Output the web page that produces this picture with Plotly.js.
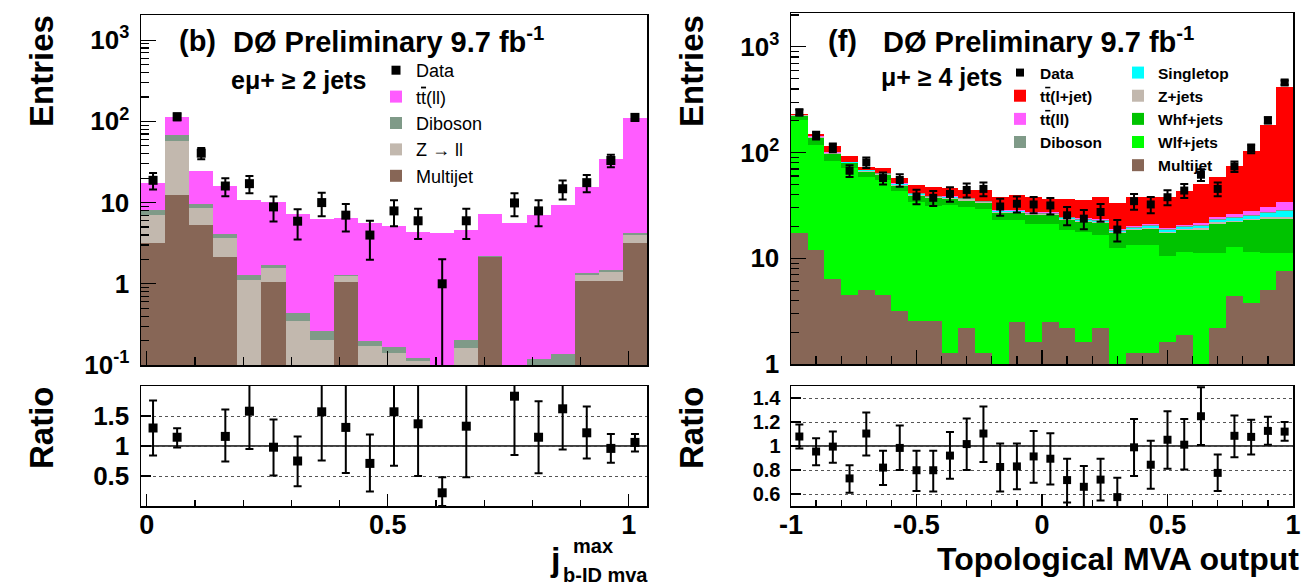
<!DOCTYPE html>
<html>
<head>
<meta charset="utf-8">
<script src="https://cdn.plot.ly/plotly-3.0.1.min.js"></script>
<style>html,body{margin:0;padding:0;background:#fff;}#chart{width:1310px;height:586px;}</style>
</head>
<body>
<div id="chart"></div>
<script>
// ---------------- Panel (b): e mu + >= 2 jets ----------------
const leftBinCenters = [0.013,0.063,0.113,0.163,0.213,0.263,0.313,0.363,0.413,0.463,0.513,0.563,0.613,0.663,0.713,0.763,0.813,0.863,0.913,0.963,1.013];
const leftBinWidth = 0.05;
const leftMultijet = [3.15,12.5,5.3,2.12,0,1.06,0,0,1.05,0,0,0,0,0,2.12,0,0,0,1.07,1.07,3.15];
const leftZll      = [3.85,44.4,3.4,1.51,1.12,0.5,0.35,0.206,0.18,0.17,0.139,0.112,0,0.16,0.04,0,0,0,0.22,0.31,0.83];
const leftDiboson  = [1.06,11.1,0.8,0.46,0.18,0.16,0.09,0.06,0.07,0.027,0.027,0.009,0,0.046,0.06,0,0.117,0.135,0.06,0.1,0.19];
const leftTTll     = [9.34,46,14.9,11.7,9.4,8.5,6.86,6.1,5.07,5.44,4.96,4.25,4.25,4.37,5.11,5.53,6.88,9.17,14.25,33.1,105.8];
const leftData        = [18.8,114,40.6,16,17.1,8.85,5.9,10,7.0,3.98,7.9,5.97,1.0,5.97,null,9.9,7.9,14.8,17.6,33,112];
const leftDataErrUp   = [4.3,10.7,6.4,4.0,4.1,3.0,2.4,3.2,2.6,2.0,2.8,2.4,1.0,2.4,null,3.1,2.8,3.9,4.2,5.7,10.6];
const leftDataErrDown = [4.3,10.7,6.4,4.0,4.1,3.0,2.4,3.2,2.6,2.0,2.8,2.4,0.99,2.4,null,3.1,2.8,3.9,4.2,5.7,10.6];
const leftRatio        = [1.30,1.146,null,1.16,1.58,0.98,0.75,1.57,1.31,0.71,1.57,1.37,0.22,1.33,null,1.83,1.146,1.62,1.22,0.96,1.06];
const leftRatioErrUp   = [0.46,0.15,null,0.45,0.6,0.46,0.41,0.8,0.8,0.48,0.9,0.9,0.26,0.85,null,0.98,0.6,0.68,0.44,0.24,0.14];
const leftRatioErrDown = [0.46,0.17,null,0.42,0.63,0.47,0.42,0.81,0.76,0.47,0.9,0.87,0.22,0.85,null,0.98,0.6,0.68,0.43,0.24,0.15];

// ---------------- Panel (f): mu + >= 4 jets ----------------
const rightBinCenters = [-0.9667,-0.9,-0.8333,-0.7667,-0.7,-0.6333,-0.5667,-0.5,-0.4333,-0.3667,-0.3,-0.2333,-0.1667,-0.1,-0.0333,0.0333,0.1,0.1667,0.2333,0.3,0.3667,0.4333,0.5,0.5667,0.6333,0.7,0.7667,0.8333,0.9,0.9667];
const rightBinWidth = 0.066667;
const rightMultijet  = [17.2,12.0,6.3,4.5,5.0,4.5,3.2,2.55,2.55,1.27,2.2,1.27,0.7,2.5,1.6,2.5,2.2,1.6,2.2,0.7,1.27,1.27,1.6,1.9,0.7,2.2,4.4,3.8,5.0,7.5];
const rightWlf       = [187.8,106,77.2,66.3,54,50.5,39.9,31.45,29,30.3,28.3,28.1,22.2,20.4,19.4,18.5,16.2,16.2,14.3,11.7,12.0,12.0,8.8,9.6,10.4,8.9,8.5,7.7,6.1,3.6];
const rightWhf       = [16,19,13,8.1,7,6.7,5.6,5.2,5.4,4.9,4.7,3.8,3.9,3.9,4.5,4.5,4.5,4.3,5.1,4.8,5.1,5.8,6.8,6.9,7.6,10.2,9.2,11.4,12.6,12.6];
const rightZjets     = [3.5,2.4,1.8,1.5,1.3,1.2,1.0,0.9,0.8,0.8,0.8,0.7,0.6,0.6,0.6,0.6,0.5,0.5,0.5,0.4,0.45,0.45,0.45,0.5,0.5,0.55,0.6,0.6,0.65,0.8];
const rightSingletop = [0.5,0.4,0.4,0.4,0.4,0.4,0.4,0.4,0.4,0.4,0.4,0.4,0.4,0.4,0.4,0.4,0.5,0.5,0.5,0.5,0.6,0.6,0.7,0.8,0.9,1.1,1.4,1.8,2.4,3.5];
const rightDiboson   = [2.5,1.8,1.3,1.1,1.0,0.9,0.8,0.7,0.7,0.7,0.6,0.6,0.5,0.5,0.5,0.5,0.5,0.45,0.45,0.4,0.4,0.4,0.4,0.4,0.45,0.45,0.5,0.5,0.55,0.6];
const rightTTll      = [0.3,0.3,0.3,0.3,0.3,0.3,0.3,0.3,0.3,0.3,0.3,0.3,0.3,0.3,0.3,0.35,0.35,0.4,0.4,0.4,0.5,0.5,0.6,0.7,0.9,1.1,1.5,2.0,3.0,5.5];
const rightTTlj      = [4.2,9.1,14.7,10.8,3.3,6.8,6.2,8.3,7.8,7.3,7.0,9.1,9.2,11.5,10.5,9.15,11.75,11.75,14.35,14.6,18.05,16.75,19.05,22.9,29.05,34.6,48.9,76.2,151.7,378.9];
const rightData    = [240,145,111,67.3,80.6,57.4,55,38.4,37.3,40.6,44.3,45.3,30.9,32.8,32.3,31.6,25.5,23.7,27.4,18.7,34.7,32.3,37.8,43.7,61.7,45.3,73.9,109,202,460];
const rightDataErr = [15.5,12,10.5,8.5,9.0,7.5,7.4,6.0,6.1,6.4,6.7,6.7,5.6,5.7,5.7,5.6,5.0,4.9,5.2,4.3,5.9,5.7,6.1,6.6,7.9,6.7,8.6,10.4,14.2,21.4];
const rightRatio        = [1.079,0.954,0.995,0.73,1.104,0.82,0.984,0.798,0.798,0.92,1.016,1.104,0.825,0.83,0.913,0.894,0.716,0.66,0.72,0.574,0.989,0.844,1.052,1.011,1.248,0.776,1.085,1.076,1.126,1.12];
const rightRatioErrUp   = [0.10,0.11,0.125,0.11,0.176,0.14,0.186,0.162,0.162,0.197,0.214,0.226,0.195,0.19,0.212,0.212,0.178,0.174,0.174,0.161,0.235,0.2,0.238,0.215,0.242,0.154,0.169,0.142,0.117,0.08];
const rightRatioErrDown = [0.10,0.114,0.135,0.12,0.184,0.145,0.184,0.172,0.178,0.193,0.216,0.238,0.205,0.19,0.219,0.214,0.186,0.17,0.175,0.154,0.239,0.201,0.242,0.207,0.24,0.15,0.178,0.146,0.116,0.076];

// tick labels
const leftMainTickVals = [0.1,1,10,100,1000];
const leftMainTickText = ['10<sup>-1</sup>','1','10','10<sup>2</sup>','10<sup>3</sup>'];
const rightMainTickVals = [1,10,100,1000];
const rightMainTickText = ['1','10','10<sup>2</sup>','10<sup>3</sup>'];
const leftRatioTickVals = [0.5,1,1.5];
const leftRatioTickText = ['0.5','1','1.5'];
const rightRatioTickVals = [0.6,0.8,1,1.2,1.4];
const rightRatioTickText = ['0.6','0.8','1','1.2','1.4'];
const leftXTickVals = [0,0.5,1];
const leftXTickText = ['0','0.5','1'];
const rightXTickVals = [-1,-0.5,0,0.5,1];
const rightXTickText = ['-1','-0.5','0','0.5','1'];

// colours
const C = {
  multijet:'#876656', zll:'#c2b8ae', diboson:'#7f9a88', ttll:'#ff5cff',
  ttlj:'#ff0000', singletop:'#00ffff', whf:'#00c300', wlf:'#00ff00', data:'#000000'
};
const FONT = 'Liberation Sans, Arial, Helvetica, sans-serif';
const W = 1310, H = 586;
const px = v => v / W;
const py = v => 1 - v / H;

function minorLog(lo, hi) {
  const out = [];
  for (let d = lo; d <= hi; d++) {
    for (let k = 2; k <= 9; k++) out.push(k * Math.pow(10, d));
  }
  return out;
}

function bar(x, y, w, name, color, xa, ya, legend, rank) {
  return {type:'bar', x:x, y:y, width:w, name:name, marker:{color:color, line:{width:0}},
          xaxis:xa, yaxis:ya, legend:legend, legendrank:rank, hoverinfo:'skip'};
}
function dataTrace(x, y, up, down, xa, ya, legend, show, size) {
  return {type:'scatter', mode:'markers', x:x, y:y, name:'Data', xaxis:xa, yaxis:ya,
          legend:legend, legendrank:1, showlegend:show, hoverinfo:'skip',
          marker:{symbol:'square', size:size, color:C.data},
          error_y:{type:'data', symmetric:false, array:up, arrayminus:down, color:'#000', thickness:2, width:4}};
}

const traces = [
  bar(leftBinCenters, leftMultijet, leftBinWidth, 'Multijet', C.multijet, 'x', 'y', 'legend', 5),
  bar(leftBinCenters, leftZll, leftBinWidth, 'Z \u2192 ll', C.zll, 'x', 'y', 'legend', 4),
  bar(leftBinCenters, leftDiboson, leftBinWidth, 'Diboson', C.diboson, 'x', 'y', 'legend', 3),
  bar(leftBinCenters, leftTTll, leftBinWidth, 't<span style="text-decoration:overline">t</span>(ll)', C.ttll, 'x', 'y', 'legend', 2),
  dataTrace(leftBinCenters, leftData, leftDataErrUp, leftDataErrDown, 'x', 'y', 'legend', true, 9),
  dataTrace(leftBinCenters, leftRatio, leftRatioErrUp, leftRatioErrDown, 'x2', 'y2', 'legend', false, 9),

  bar(rightBinCenters, rightMultijet, rightBinWidth, 'Multijet', C.multijet, 'x3', 'y3', 'legend3', 15),
  bar(rightBinCenters, rightWlf, rightBinWidth, 'Wlf+jets', C.wlf, 'x3', 'y3', 'legend3', 14),
  bar(rightBinCenters, rightWhf, rightBinWidth, 'Whf+jets', C.whf, 'x3', 'y3', 'legend3', 13),
  bar(rightBinCenters, rightZjets, rightBinWidth, 'Z+jets', C.zll, 'x3', 'y3', 'legend3', 12),
  bar(rightBinCenters, rightSingletop, rightBinWidth, 'Singletop', C.singletop, 'x3', 'y3', 'legend3', 11),
  bar(rightBinCenters, rightDiboson, rightBinWidth, 'Diboson', C.diboson, 'x3', 'y3', 'legend2', 4),
  bar(rightBinCenters, rightTTll, rightBinWidth, 't<span style="text-decoration:overline">t</span>(ll)', C.ttll, 'x3', 'y3', 'legend2', 3),
  bar(rightBinCenters, rightTTlj, rightBinWidth, 't<span style="text-decoration:overline">t</span>(l+jet)', C.ttlj, 'x3', 'y3', 'legend2', 2),
  dataTrace(rightBinCenters, rightData, rightDataErr, rightDataErr, 'x3', 'y3', 'legend2', true, 8),
  dataTrace(rightBinCenters, rightRatio, rightRatioErrUp, rightRatioErrDown, 'x4', 'y4', 'legend2', false, 8)
];

const tickFont = {family:FONT, size:26, color:'#000', weight:'bold'};
const xTickFont = {family:FONT, size:27, color:'#000', weight:'bold'};
const ratioRightFont = {family:FONT, size:20, color:'#000', weight:'bold'};
const axBase = {showline:true, mirror:true, linecolor:'#000', linewidth:1.5, zeroline:false,
                showgrid:false, ticks:'inside', tickcolor:'#000', tickwidth:1.2, fixedrange:true};

const leftXDom = [px(141), px(647)];
const rightXDom = [px(791), px(1293)];

const layout = {
  width:W, height:H, margin:{l:0, r:0, t:0, b:0},
  paper_bgcolor:'#fff', plot_bgcolor:'#fff',
  barmode:'stack', bargap:0, showlegend:true,
  font:{family:FONT, color:'#000'},
  xaxis: Object.assign({}, axBase, {domain:leftXDom, anchor:'y', range:[-0.012,1.038],
          tickvals:leftXTickVals, ticktext:leftXTickText, showticklabels:false, ticklen:14,
          minor:{ticks:'inside', dtick:0.1, tick0:0, ticklen:8, tickcolor:'#000'}}),
  yaxis: Object.assign({}, axBase, {domain:[py(365), py(15)], anchor:'x', type:'log', range:[-1,3.31],
          tickvals:leftMainTickVals, ticktext:leftMainTickText, ticklen:15, tickfont:tickFont,
          ticklabelstandoff:5,
          minor:{ticks:'inside', tickmode:'array', tickvals:minorLog(-1,3), ticklen:8, tickcolor:'#000'}}),
  xaxis2: Object.assign({}, axBase, {domain:leftXDom, anchor:'y2', range:[-0.012,1.038],
          tickvals:leftXTickVals, ticktext:leftXTickText, ticklen:12, tickfont:xTickFont,
          ticklabelstandoff:-6,
          minor:{ticks:'inside', dtick:0.1, tick0:0, ticklen:6, tickcolor:'#000'}}),
  yaxis2: Object.assign({}, axBase, {domain:[py(506), py(386)], anchor:'x2', range:[0,2],
          tickvals:leftRatioTickVals, ticktext:leftRatioTickText, ticklen:10, tickfont:tickFont,
          ticklabelstandoff:5, showgrid:true, gridcolor:'#555', griddash:'dot', gridwidth:1}),
  xaxis3: Object.assign({}, axBase, {domain:rightXDom, anchor:'y3', range:[-1,1],
          tickvals:rightXTickVals, ticktext:rightXTickText, showticklabels:false, ticklen:14,
          minor:{ticks:'inside', dtick:0.1, tick0:0, ticklen:8, tickcolor:'#000'}}),
  yaxis3: Object.assign({}, axBase, {domain:[py(364), py(13)], anchor:'x3', type:'log', range:[0,3.32],
          tickvals:rightMainTickVals, ticktext:rightMainTickText, ticklen:15, tickfont:tickFont,
          ticklabelstandoff:5,
          minor:{ticks:'inside', tickmode:'array', tickvals:minorLog(0,3), ticklen:8, tickcolor:'#000'}}),
  xaxis4: Object.assign({}, axBase, {domain:rightXDom, anchor:'y4', range:[-1,1],
          tickvals:rightXTickVals, ticktext:rightXTickText, ticklen:12, tickfont:xTickFont,
          ticklabelstandoff:-6,
          minor:{ticks:'inside', dtick:0.1, tick0:0, ticklen:6, tickcolor:'#000'}}),
  yaxis4: Object.assign({}, axBase, {domain:[py(506), py(386)], anchor:'x4', range:[0.5,1.5],
          tickvals:rightRatioTickVals, ticktext:rightRatioTickText, ticklen:10, tickfont:ratioRightFont,
          ticklabelstandoff:5, showgrid:true, gridcolor:'#555', griddash:'dot', gridwidth:1}),
  legend: {x:px(376), y:py(52), xanchor:'left', yanchor:'top', bgcolor:'rgba(0,0,0,0)',
           font:{family:FONT, size:18, color:'#000'}, traceorder:'normal', itemclick:false, itemdoubleclick:false},
  legend2:{x:px(1000), y:py(56), xanchor:'left', yanchor:'top', bgcolor:'rgba(0,0,0,0)',
           font:{family:FONT, size:15.5, color:'#000', weight:'bold'}, traceorder:'normal', itemclick:false, itemdoubleclick:false},
  legend3:{x:px(1118), y:py(56), xanchor:'left', yanchor:'top', bgcolor:'rgba(0,0,0,0)',
           font:{family:FONT, size:15.5, color:'#000', weight:'bold'}, traceorder:'normal', itemclick:false, itemdoubleclick:false},
  shapes: [
    {type:'line', xref:'x2 domain', yref:'y2', x0:0, x1:1, y0:1, y1:1, line:{color:'#000', width:1.5}, layer:'below'},
    {type:'line', xref:'x4 domain', yref:'y4', x0:0, x1:1, y0:1, y1:1, line:{color:'#000', width:1.5}, layer:'below'}
  ],
  annotations: []
};

function txt(text, x, y, size, opts) {
  return Object.assign({text:text, x:px(x), y:py(y), xref:'paper', yref:'paper', showarrow:false,
    xanchor:'left', yanchor:'middle', font:{family:FONT, size:size, color:'#000', weight:'bold'}}, opts || {});
}
layout.annotations.push(
  txt('(b)', 177, 41, 29),
  txt('D\u00D8 Preliminary 9.7 fb<sup>-1</sup>', 231, 40, 29),
  txt('e\u03BC+ \u2265 2 jets', 229, 80, 25),
  txt('(f)', 826, 41, 29),
  txt('D\u00D8 Preliminary 9.7 fb<sup>-1</sup>', 881, 40, 29),
  txt('\u03BC+ \u2265 4 jets', 879, 77, 25),
  txt('Entries', 41, 71, 33, {xanchor:'center', textangle:-90}),
  txt('Ratio', 41, 428, 33, {xanchor:'center', textangle:-90}),
  txt('Entries', 691, 71, 33, {xanchor:'center', textangle:-90}),
  txt('Ratio', 691, 428, 33, {xanchor:'center', textangle:-90}),
  txt('Topological MVA output', 1301, 559, 32, {xanchor:'right'}),
  txt('j', 555, 559, 34, {xanchor:'center'}),
  txt('max', 571, 546, 20),
  txt('b-ID mva', 650, 575, 20, {xanchor:'right'})
);

Plotly.newPlot('chart', traces, layout, {displayModeBar:false, staticPlot:true});
</script>
</body>
</html>
